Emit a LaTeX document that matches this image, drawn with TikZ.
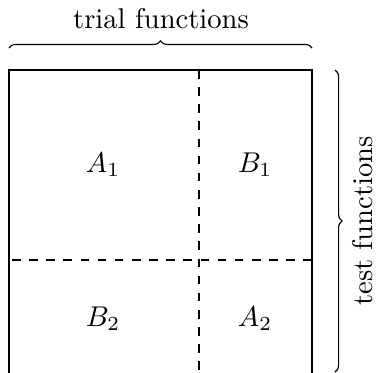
\documentclass[tikz,border=0pt]{standalone}
\usetikzlibrary{decorations.pathreplacing}
\begin{document}
\begin{tikzpicture}[x=0.35pt,y=-0.35pt,thin,label text/.style={draw=none,inner sep=0pt},part/.style={draw,dashed},brace/.style={draw,decorate,decoration={brace}}]
  \path[use as bounding box,clip] (0,0) rectangle (377,372);
  \coordinate (tl) at (9,70);
  \coordinate (br) at (312,380);
  \coordinate (vtop) at (199,70);
  \coordinate (vbot) at (199,380);
  \coordinate (hleft) at (9,260);
  \coordinate (hright) at (312,260);
  \coordinate (tb1) at (9,48);
  \coordinate (tb2) at (312,48);
  \coordinate (rb1) at (335,70);
  \coordinate (rb2) at (335,372);
  \node[label text] (a1) at (103,165) {$A_1$};
  \node[label text] (b1) at (255,165) {$B_1$};
  \node[label text] (b2) at (103,319) {$B_2$};
  \node[label text] (a2) at (255,319) {$A_2$};
  \node[label text] (trial) at (161,19) {trial functions};
  \node[label text,rotate=90] (test) at (363,221) {test functions};
  \draw (tl) rectangle (br);
  \path[part] (vtop) -- (vbot);
  \path[part] (hright) -- (hleft);
  \path[brace] (tb1) -- (tb2);
  \path[brace] (rb1) -- (rb2);
\end{tikzpicture}
\end{document}
